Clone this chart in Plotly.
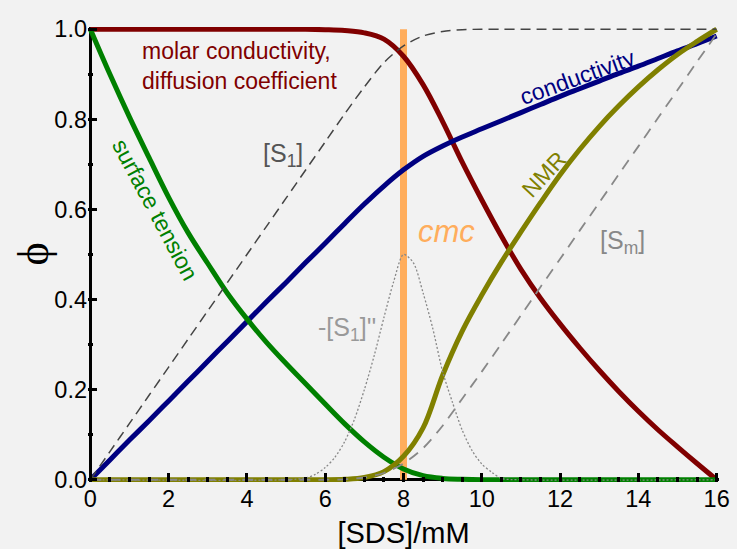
import plotly.graph_objects as go

# Concentration grid (mM) shared by most curves
sds = [0, 0.5, 1, 1.5, 2, 2.5, 3, 3.5, 4, 4.5, 5, 5.5, 6, 6.5, 7, 7.5, 8,
       8.5, 9, 9.5, 10, 10.5, 11, 11.5, 12, 12.5, 13, 13.5, 14, 14.5, 15, 15.5, 16]

molar_cond = [1, 1, 1, 1, 1, 1, 1, 1, 1, 1, 1, 1, 0.999, 0.997, 0.992, 0.978, 0.94,
              0.877, 0.795, 0.705, 0.621, 0.541, 0.467, 0.403, 0.346, 0.293, 0.243, 0.196,
              0.152, 0.111, 0.073, 0.036, 0.0]

conductivity = [0, 0.044, 0.088, 0.131, 0.175, 0.219, 0.263, 0.307, 0.351, 0.395, 0.438,
                0.482, 0.525, 0.569, 0.612, 0.652, 0.688, 0.718, 0.741, 0.761, 0.779, 0.797,
                0.815, 0.833, 0.851, 0.868, 0.885, 0.902, 0.918, 0.935, 0.952, 0.968, 0.985]

surface_tension = [1.0, 0.9, 0.805, 0.715, 0.627, 0.548, 0.48, 0.414, 0.357, 0.305, 0.258,
                   0.213, 0.168, 0.124, 0.084, 0.05, 0.024, 0.009, 0.003, 0.001, 0, 0, 0, 0,
                   0, 0, 0, 0, 0, 0, 0, 0, 0]

nmr = [0, 0, 0, 0, 0, 0, 0, 0, 0, 0, 0, 0, 0, 0.001, 0.005, 0.018, 0.052, 0.115, 0.232,
       0.33, 0.41, 0.483, 0.55, 0.615, 0.677, 0.733, 0.784, 0.83, 0.872, 0.91, 0.944,
       0.973, 1.0]

s1 = [0, 0.0625, 0.125, 0.1875, 0.25, 0.3125, 0.375, 0.4375, 0.5, 0.5625, 0.625, 0.6875,
      0.75, 0.8125, 0.872, 0.926, 0.963, 0.985, 0.995, 0.999, 1, 1, 1, 1, 1, 1, 1, 1, 1,
      1, 1, 1, 1]

sm = [0, 0, 0, 0, 0, 0, 0, 0, 0, 0, 0, 0, 0, 0.001, 0.005, 0.015, 0.036, 0.07, 0.12, 0.18,
      0.24, 0.302, 0.365, 0.428, 0.49, 0.553, 0.615, 0.678, 0.74, 0.803, 0.865, 0.928, 0.99]

# Negative second derivative of [S1], sampled more finely around the cmc
sds_fine = [0, 5, 5.5, 5.75, 6, 6.25, 6.5, 6.75, 7, 7.25, 7.5, 7.75, 8, 8.25, 8.5, 8.75,
            9, 9.25, 9.5, 9.75, 10, 10.25, 10.5, 11, 16]
s1_dd = [0, 0, 0.004, 0.012, 0.027, 0.05, 0.085, 0.135, 0.2, 0.275, 0.36, 0.44, 0.5,
         0.482, 0.415, 0.335, 0.24, 0.172, 0.11, 0.065, 0.035, 0.017, 0.003, 0, 0]

cmc = 8.0
phi_span = [0, 1.0]

FONT = "Liberation Sans, Arial, sans-serif"
BG = "#f2f2f2"

fig = go.Figure()

# cmc marker line
fig.add_trace(go.Scatter(x=[cmc, cmc], y=phi_span, mode="lines",
                         line=dict(color="#ffad5c", width=7), hoverinfo="skip"))

solid = [
    (molar_cond, "#800000"),
    (conductivity, "#000080"),
    (surface_tension, "#008000"),
    (nmr, "#808000"),
]
for ys, col in solid:
    fig.add_trace(go.Scatter(x=sds, y=ys, mode="lines",
                             line=dict(color=col, width=5, shape="spline", smoothing=1.0)))

fig.add_trace(go.Scatter(x=sds, y=s1, mode="lines",
                         line=dict(color="#444444", width=1.5, dash="10px,6px",
                                   shape="spline", smoothing=0.8)))
fig.add_trace(go.Scatter(x=sds, y=sm, mode="lines",
                         line=dict(color="#888888", width=1.8, dash="11px,8px",
                                   shape="spline", smoothing=0.8)))
fig.add_trace(go.Scatter(x=sds_fine, y=s1_dd, mode="lines",
                         line=dict(color="#888888", width=1.3, dash="2px,2px",
                                   shape="spline", smoothing=0.8)))

def label(x, y, text, color, size=22, angle=0, anchor="center", italic=False):
    fig.add_annotation(x=x, y=y, xref="x", yref="y", text=text, showarrow=False,
                       textangle=angle, xanchor=anchor, yanchor="middle", align="left",
                       font=dict(family=FONT, size=size, color=color,
                                 style="italic" if italic else "normal"))

label(1.27, 0.918, "molar conductivity,<br>diffusion coefficient", "#800000", size=23,
      anchor="left")
label(4.93, 0.72, "[S<sub>1</sub>]", "#555555", size=25)
label(1.64, 0.60, "surface tension", "#008000", size=23, angle=62)
label(12.45, 0.895, "conductivity", "#000080", size=23, angle=-20)
label(11.6, 0.678, "NMR", "#808000", size=23, angle=-47)
label(9.1, 0.55, "cmc", "#ffad5c", size=31, italic=True)
label(13.6, 0.528, "[S<sub>m</sub>]", "#888888", size=25)
label(6.55, 0.335, "-[S<sub>1</sub>]''", "#999999", size=25)

axis_common = dict(
    showgrid=False, showline=False, zeroline=True, zerolinecolor="black",
    zerolinewidth=3, ticks="inside", ticklen=9, tickwidth=2.5, tickcolor="black",
    tickfont=dict(family=FONT, size=23.5, color="black"), automargin=False,
)

fig.update_xaxes(
    range=[-0.06, 16.06], tick0=0, dtick=2,
    minor=dict(dtick=0.5, ticks="inside", ticklen=5, tickwidth=2.5, tickcolor="black"),
    title=dict(text="[SDS]/mM", font=dict(family=FONT, size=29, color="black"), standoff=12),
    **axis_common,
)
fig.update_yaxes(
    range=[-0.005, 1.005], tick0=0, dtick=0.2, tickformat=".1f",
    minor=dict(dtick=0.1, ticks="inside", ticklen=5, tickwidth=2.5, tickcolor="black"),
    **axis_common,
)

# y-axis title: the volume fraction symbol, set beside the tick labels
fig.add_annotation(x=-0.087, y=0.5, xref="paper", yref="paper", text="ϕ",
                   showarrow=False, textangle=-90, xanchor="center", yanchor="middle",
                   font=dict(family="Liberation Serif, DejaVu Serif, serif", size=44,
                             color="black"))

fig.update_layout(
    width=737, height=549,
    margin=dict(l=88, r=18, t=27, b=67, autoexpand=False),
    paper_bgcolor=BG, plot_bgcolor=BG,
    showlegend=False,
)

fig.write_html("out.html")
